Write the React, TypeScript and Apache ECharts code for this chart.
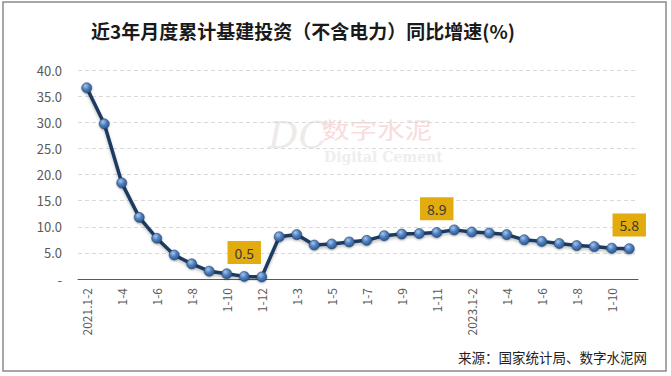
import React, { useEffect, useRef } from "react";
import * as echarts from "echarts";

const categories: string[] = [
  "2021.1-2", "1-3", "1-4", "1-5", "1-6", "1-7", "1-8", "1-9", "1-10", "1-11", "1-12",
  "2022.1-2", "1-3", "1-4", "1-5", "1-6", "1-7", "1-8", "1-9", "1-10", "1-11", "1-12",
  "2023.1-2", "1-3", "1-4", "1-5", "1-6", "1-7", "1-8", "1-9", "1-10", "1-11",
];

const growth: number[] = [
  36.6, 29.7, 18.4, 11.8, 7.8, 4.6, 2.9, 1.5, 1.0, 0.5, 0.4,
  8.1, 8.5, 6.5, 6.7, 7.1, 7.4, 8.3, 8.6, 8.7, 8.9, 9.4,
  9.0, 8.8, 8.5, 7.5, 7.2, 6.8, 6.4, 6.2, 5.9, 5.8,
];

const labelledIndices: number[] = [9, 20, 31];

const titleText = "近3年月度累计基建投资（不含电力）同比增速(%)";
const sourceText = "来源：国家统计局、数字水泥网";

export default function App() {
  const ref = useRef<HTMLDivElement>(null);

  useEffect(() => {
    if (!ref.current) return;
    const chart = echarts.init(ref.current, undefined, { renderer: "svg" });
    const font = "'Noto Sans CJK SC', 'Noto Sans', sans-serif";

    const seriesData = growth.map((v, i) =>
      labelledIndices.includes(i)
        ? {
            value: v,
            label: {
              show: true,
              position: "top",
              distance: 7,
              backgroundColor: "#E2AC0F",
              padding: [4, 7, 3, 7],
              color: "#3a3a3a",
              fontSize: 14,
              fontFamily: font,
              lineHeight: 16,
            },
          }
        : v
    );

    chart.setOption({
      animation: false,
      backgroundColor: "#ffffff",
      title: {
        text: titleText,
        left: 86,
        top: 16,
        textStyle: {
          fontSize: 19,
          fontWeight: "bold",
          color: "#1a1a1a",
          fontFamily: font,
        },
      },
      grid: { left: 78, right: 33, top: 70, bottom: 97, containLabel: false },
      xAxis: {
        type: "category",
        data: categories,
        boundaryGap: true,
        axisLine: { show: true, lineStyle: { color: "#595959", width: 1 } },
        axisTick: { show: false },
        axisLabel: {
          interval: 1,
          rotate: 90,
          margin: 9,
          fontSize: 12,
          color: "#595959",
          fontFamily: font,
        },
        splitLine: { show: false },
      },
      yAxis: {
        type: "value",
        min: 0,
        max: 40,
        interval: 5,
        axisLine: { show: false },
        axisTick: { show: false },
        axisLabel: {
          margin: 16,
          fontSize: 13,
          color: "#595959",
          fontFamily: font,
          formatter: (v: number) => (v === 0 ? "-" : v.toFixed(1)),
        },
        splitLine: {
          show: true,
          lineStyle: { color: "#D9D9D9", type: [4, 3], width: 1 },
        },
      },
      series: [
        {
          type: "line",
          data: seriesData,
          symbol: "circle",
          symbolSize: 10,
          lineStyle: {
            color: "#1C3A60",
            width: 3.5,
            shadowColor: "rgba(0,0,0,0.25)",
            shadowBlur: 3,
            shadowOffsetY: 2,
          },
          itemStyle: {
            color: {
              type: "radial",
              x: 0.38,
              y: 0.32,
              r: 0.7,
              colorStops: [
                { offset: 0, color: "#A9C6EC" },
                { offset: 0.5, color: "#4F7FBF" },
                { offset: 1, color: "#2C578F" },
              ],
            },
            borderColor: "#23466F",
            borderWidth: 0.6,
            shadowColor: "rgba(0,0,0,0.3)",
            shadowBlur: 2,
            shadowOffsetY: 1,
          },
          z: 3,
        },
      ],
      graphic: [
        {
          type: "rect",
          shape: { x: 3, y: 2, width: 663, height: 369 },
          style: { fill: "none", stroke: "#8a8a8a", lineWidth: 1.5 },
          silent: true,
          z: 0,
        },
        {
          type: "text",
          x: 268,
          y: 116,
          style: {
            text: "DC",
            fontSize: 38,
            fontStyle: "italic",
            fontFamily: "'DejaVu Serif', serif",
            fill: "#EEEAEA",
          },
          silent: true,
          z: 0,
        },
        {
          type: "text",
          x: 322,
          y: 117,
          scaleX: 1.25,
          style: {
            text: "数字水泥",
            fontSize: 22,
            fontFamily: "'Noto Sans CJK SC', sans-serif",
            fill: "#F8DCDC",
          },
          silent: true,
          z: 0,
        },
        {
          type: "text",
          x: 324,
          y: 150,
          style: {
            text: "Digital Cement",
            fontSize: 14,
            fontWeight: "bold",
            fontFamily: "'DejaVu Serif', serif",
            fill: "#EEEEEE",
          },
          silent: true,
          z: 0,
        },
        {
          type: "text",
          x: 647,
          y: 357,
          style: {
            text: sourceText,
            fontSize: 13.5,
            fontFamily: "'Noto Sans CJK SC', sans-serif",
            fill: "#222222",
            align: "right",
            verticalAlign: "middle",
          },
          silent: true,
          z: 5,
        },
      ],
    });

    return () => chart.dispose();
  }, []);

  return (
    <div
      ref={ref}
      style={{ position: "fixed", left: 0, top: 0, width: 671, height: 376 }}
    />
  );
}
